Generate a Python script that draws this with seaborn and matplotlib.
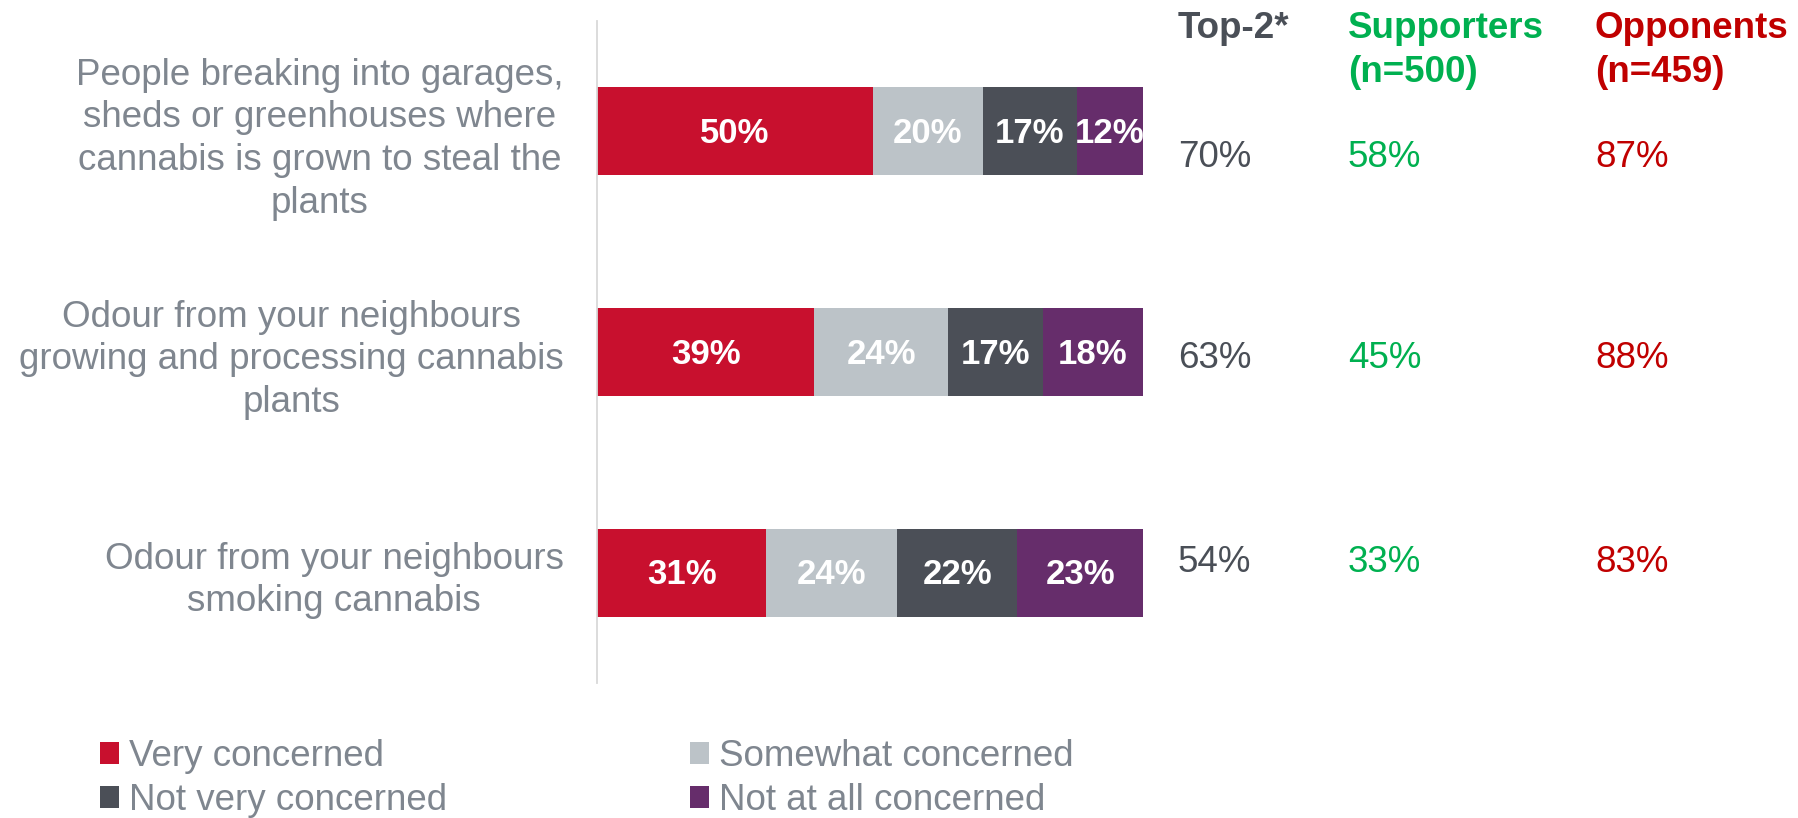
import numpy as np
import pandas as pd
import matplotlib
matplotlib.use("Agg")
import matplotlib.pyplot as plt
from matplotlib.patches import Patch
import seaborn as sns

# ---- data -------------------------------------------------------------
statements = [
    "People breaking into garages,\nsheds or greenhouses where\ncannabis is grown to steal the\nplants",
    "Odour from your neighbours\ngrowing and processing cannabis\nplants",
    "Odour from your neighbours\nsmoking cannabis",
]
levels = ["Very concerned", "Somewhat concerned", "Not very concerned", "Not at all concerned"]
very_concerned = [50, 39, 31]
somewhat_concerned = [20, 24, 24]
not_very_concerned = [17, 17, 22]
not_at_all_concerned = [12, 18, 23]

top2 = [70, 63, 54]
supporters = [58, 45, 33]
opponents = [87, 88, 83]

column_titles = ["Top-2*", "Supporters\n(n=500)", "Opponents\n(n=459)"]

# ---- style ------------------------------------------------------------
level_colors = ["#C8102E", "#BCC3C8", "#4B4F57", "#662D6B"]
label_gray = "#7F868F"
top2_color = "#4A4F57"
green = "#00B050"
dark_red = "#C00000"

sns.set_theme(style="white")
plt.rcParams["font.family"] = ["Liberation Sans", "DejaVu Sans"]

FS = 26.5

counts = pd.DataFrame(
    {
        levels[0]: very_concerned,
        levels[1]: somewhat_concerned,
        levels[2]: not_very_concerned,
        levels[3]: not_at_all_concerned,
    },
    index=statements,
)
# every row is drawn as a full 100% bar
shares = counts.div(counts.sum(axis=1), axis=0) * 100
cum = shares.cumsum(axis=1)

fig = plt.figure(figsize=(17.98, 8.18), dpi=100)
ax = fig.add_axes([597 / 1798, 1 - 683 / 818, 546 / 1798, 662 / 818])

# stacked bars: draw cumulative totals from the widest down
for level, color in reversed(list(zip(levels, level_colors))):
    frame = pd.DataFrame({"statement": statements, "value": cum[level].values})
    sns.barplot(
        data=frame, x="value", y="statement", orient="h",
        color=color, saturation=1, width=0.4, linewidth=0, ax=ax,
    )

# segment labels
for i, stmt in enumerate(statements):
    for level in levels:
        mid = cum.loc[stmt, level] - shares.loc[stmt, level] / 2
        ax.text(mid, i + 0.01, f"{counts.loc[stmt, level]}%", ha="center", va="center",
                color="white", fontsize=25, fontweight="bold")

ax.set_xlim(0, 100)
ax.set_ylim(len(statements) - 0.5, -0.5)
ax.set_xlabel("")
ax.set_ylabel("")
ax.set_xticks([])
for side in ("top", "right", "bottom"):
    ax.spines[side].set_visible(False)
ax.spines["left"].set_color("#D9D9D9")
ax.spines["left"].set_linewidth(1.3)
ax.tick_params(axis="y", length=0, pad=24, labelsize=FS, labelcolor=label_gray)
for lbl in ax.get_yticklabels():
    lbl.set_multialignment("center")
    lbl.set_linespacing(1.29)

# ---- side columns -----------------------------------------------------
col_x = [1178 / 1798, 1348 / 1798, 1595 / 1798]
col_colors = [top2_color, green, dark_red]
for x, title, c in zip(col_x, column_titles, col_colors):
    fig.text(x, 1 - 10.5 / 818, title, ha="left", va="top", fontsize=FS,
             fontweight="bold", color=c, linespacing=1.35)

row_y = [1 - 157.5 / 818, 1 - 359 / 818, 1 - 563 / 818]
for series, x, c in zip([top2, supporters, opponents], col_x, col_colors):
    for y, v in zip(row_y, series):
        fig.text(x, y, f"{v}%", ha="left", va="center", fontsize=FS, color=c)

# ---- legend -----------------------------------------------------------
handles = [Patch(facecolor=c, edgecolor="none") for c in level_colors]
order = [0, 2, 1, 3]
leg = fig.legend(
    [handles[k] for k in order], [levels[k] for k in order],
    ncol=2, loc="upper left", bbox_to_anchor=(100 / 1798, 1 - 739 / 818),
    frameon=False, fontsize=FS, handlelength=0.52, handleheight=0.52,
    handletextpad=0.27, labelspacing=0.25, columnspacing=6.6,
    borderpad=0, borderaxespad=0,
)
for t in leg.get_texts():
    t.set_color(label_gray)

fig.savefig("out.png", dpi=100, facecolor="white")
